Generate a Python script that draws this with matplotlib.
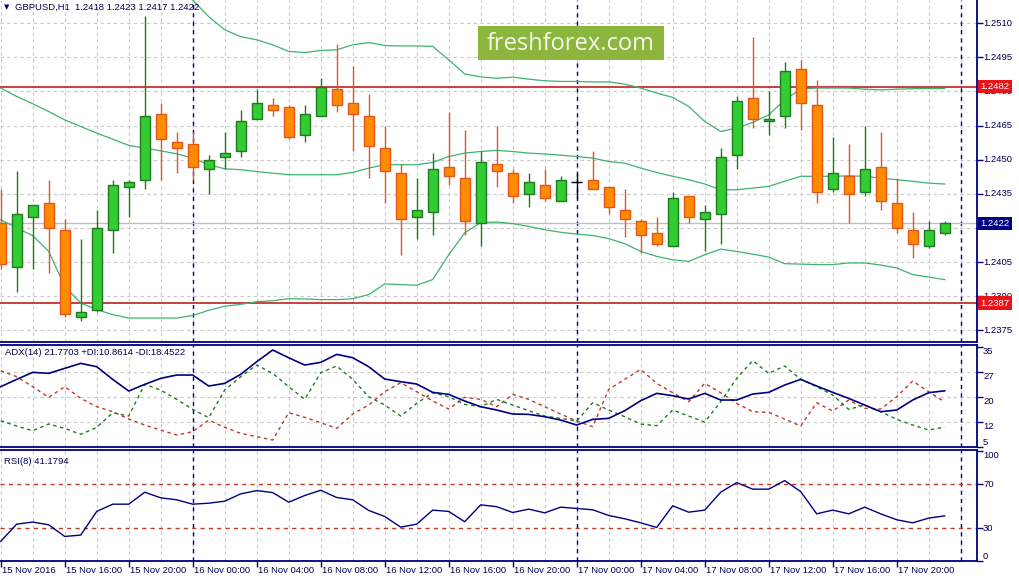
import numpy as np
import matplotlib
matplotlib.use('Agg')
import matplotlib.pyplot as plt
from matplotlib.patches import Rectangle
from matplotlib.transforms import blended_transform_factory as btf

# ---------------- data ----------------
symbol_header = "GBPUSD,H1  1.2418 1.2423 1.2417 1.2422"
adx_header = "ADX(14) 21.7703 +DI:10.8614 -DI:18.4522"
rsi_header = "RSI(8) 41.1794"

opens = [1.2422, 1.2403, 1.2425, 1.2431, 1.2419, 1.2381, 1.2384, 1.2419, 1.2438, 1.2441,
         1.2470, 1.2458, 1.2457, 1.2446, 1.2451, 1.2454, 1.2468, 1.2474, 1.2473, 1.2461,
         1.2469, 1.2481, 1.2475, 1.2469, 1.2455, 1.2444, 1.2425, 1.2427, 1.2447, 1.2442,
         1.2422, 1.2448, 1.2444, 1.2435, 1.2439, 1.2432, 1.2440, 1.2441, 1.2438, 1.2428,
         1.2423, 1.2418, 1.2412, 1.2434, 1.2424, 1.2426, 1.2452, 1.2477, 1.2467, 1.2469,
         1.2490, 1.2474, 1.2437, 1.2443, 1.2436, 1.2447, 1.2431, 1.2419, 1.2412, 1.2418]
highs = [1.2437, 1.2445, 1.2430, 1.2441, 1.2424, 1.2415, 1.2428, 1.2441, 1.2441, 1.2513,
         1.2475, 1.2462, 1.2462, 1.2452, 1.2462, 1.2472, 1.2481, 1.2477, 1.2474, 1.2474,
         1.2486, 1.2501, 1.2491, 1.2479, 1.2465, 1.2448, 1.2442, 1.2453, 1.2471, 1.2463,
         1.2454, 1.2465, 1.2446, 1.2444, 1.2446, 1.2443, 1.2444, 1.2454, 1.2438, 1.2437,
         1.2424, 1.2425, 1.2436, 1.2434, 1.2430, 1.2455, 1.2478, 1.2504, 1.2480, 1.2493,
         1.2494, 1.2485, 1.2460, 1.2457, 1.2465, 1.2462, 1.2442, 1.2427, 1.2423, 1.2423]
lows = [1.2402, 1.2392, 1.2402, 1.2400, 1.2381, 1.2379, 1.2383, 1.2409, 1.2425, 1.2437,
        1.2441, 1.2444, 1.2441, 1.2435, 1.2446, 1.2451, 1.2468, 1.2469, 1.2459, 1.2458,
        1.2469, 1.2471, 1.2454, 1.2442, 1.2431, 1.2408, 1.2415, 1.2417, 1.2439, 1.2417,
        1.2412, 1.2438, 1.2431, 1.2429, 1.2432, 1.2432, 1.2433, 1.2437, 1.2426, 1.2416,
        1.2409, 1.2412, 1.2412, 1.2422, 1.2410, 1.2413, 1.2446, 1.2464, 1.2461, 1.2464,
        1.2463, 1.2431, 1.2436, 1.2422, 1.2434, 1.2428, 1.2418, 1.2407, 1.2411, 1.2417]
closes = [1.2404, 1.2426, 1.2430, 1.2420, 1.2382, 1.2383, 1.2420, 1.2439, 1.2440, 1.2469,
          1.2459, 1.2455, 1.2447, 1.2450, 1.2453, 1.2467, 1.2475, 1.2472, 1.2460, 1.2470,
          1.2482, 1.2474, 1.2470, 1.2456, 1.2445, 1.2424, 1.2428, 1.2446, 1.2443, 1.2423,
          1.2449, 1.2445, 1.2434, 1.2440, 1.2433, 1.2441, 1.2440, 1.2437, 1.2429, 1.2424,
          1.2417, 1.2413, 1.2433, 1.2425, 1.2427, 1.2451, 1.2476, 1.2468, 1.2468, 1.2489,
          1.2475, 1.2436, 1.2444, 1.2435, 1.2446, 1.2432, 1.2420, 1.2413, 1.2419, 1.2422]

bb_upper = [1.25393, 1.25356, 1.25326, 1.25327, 1.25407, 1.25422, 1.25393, 1.25362, 1.25321, 1.25298,
            1.25274, 1.25248, 1.25202, 1.25129, 1.25071, 1.25041, 1.25027, 1.25005, 1.24976, 1.24971,
            1.24980, 1.24983, 1.25005, 1.25015, 1.25002, 1.25000, 1.25000, 1.24998, 1.24939, 1.24877,
            1.24864, 1.24858, 1.24863, 1.24854, 1.24847, 1.24844, 1.24844, 1.24842, 1.24842, 1.24832,
            1.24815, 1.24793, 1.24774, 1.24734, 1.24668, 1.24624, 1.24639, 1.24664, 1.24697, 1.24763,
            1.24810, 1.24815, 1.24815, 1.24815, 1.24810, 1.24807, 1.24810, 1.24812, 1.24813, 1.24813]
bb_middle = [1.24815, 1.24778, 1.24746, 1.24712, 1.24675, 1.24646, 1.24617, 1.24590, 1.24563, 1.24551,
             1.24539, 1.24526, 1.24507, 1.24478, 1.24460, 1.24456, 1.24448, 1.24441, 1.24434, 1.24434,
             1.24434, 1.24434, 1.24444, 1.24463, 1.24478, 1.24478, 1.24478, 1.24488, 1.24514, 1.24529,
             1.24536, 1.24541, 1.24536, 1.24529, 1.24525, 1.24520, 1.24514, 1.24507, 1.24492, 1.24485,
             1.24463, 1.24444, 1.24427, 1.24412, 1.24393, 1.24368, 1.24368, 1.24375, 1.24383, 1.24405,
             1.24427, 1.24427, 1.24427, 1.24429, 1.24427, 1.24419, 1.24412, 1.24405, 1.24397, 1.24393]
bb_lower = [1.24236, 1.24200, 1.24166, 1.24097, 1.23943, 1.23870, 1.23841, 1.23819, 1.23804, 1.23804,
            1.23804, 1.23804, 1.23815, 1.23838, 1.23856, 1.23864, 1.23876, 1.23880, 1.23889, 1.23888,
            1.23885, 1.23885, 1.23889, 1.23907, 1.23954, 1.23951, 1.23948, 1.23973, 1.24082, 1.24178,
            1.24224, 1.24226, 1.24219, 1.24207, 1.24192, 1.24181, 1.24173, 1.24167, 1.24153, 1.24131,
            1.24097, 1.24075, 1.24060, 1.24053, 1.24082, 1.24107, 1.24097, 1.24085, 1.24072, 1.24043,
            1.24041, 1.24039, 1.24039, 1.24046, 1.24046, 1.24037, 1.24024, 1.23995, 1.23984, 1.23973]

adx = [23.0, 25.2, 27.3, 27.0, 28.5, 30.0, 29.0, 25.2, 21.7, 23.7,
       25.5, 26.5, 26.5, 23.2, 24.0, 26.7, 30.5, 34.0, 31.7, 29.5,
       30.3, 32.7, 31.7, 29.0, 25.3, 24.5, 23.8, 21.3, 20.7, 18.7,
       17.0, 16.0, 14.8, 14.7, 14.0, 13.0, 11.5, 13.2, 13.5, 15.8,
       18.8, 21.0, 20.3, 19.3, 21.0, 19.0, 19.0, 20.8, 21.3, 23.5,
       25.2, 23.2, 21.3, 19.5, 17.5, 15.5, 16.0, 19.0, 21.2, 21.77]
plus_di = [12.8, 11.2, 9.8, 11.8, 10.5, 8.7, 10.8, 15.2, 14.2, 23.7,
           22.0, 19.2, 16.2, 13.7, 22.0, 26.0, 29.5, 27.0, 23.0, 19.2,
           27.2, 29.2, 25.2, 20.0, 17.5, 14.2, 18.0, 21.2, 20.0, 17.7,
           17.0, 19.2, 17.5, 15.8, 14.2, 13.5, 12.7, 18.2, 16.0, 14.0,
           11.8, 11.3, 16.0, 14.2, 12.4, 18.5, 25.5, 30.8, 27.0, 29.2,
           25.2, 23.0, 20.5, 16.2, 17.5, 15.5, 13.2, 11.5, 10.0, 10.86]
minus_di = [27.8, 26.0, 23.0, 19.8, 23.0, 19.5, 17.0, 15.5, 13.3, 11.5,
            10.0, 8.5, 9.5, 13.0, 10.8, 9.0, 8.0, 7.0, 15.2, 13.8,
            12.2, 10.5, 14.8, 17.5, 21.5, 24.2, 21.5, 18.7, 16.3, 19.8,
            19.2, 17.0, 20.7, 19.2, 17.0, 14.8, 12.7, 11.0, 22.2, 25.2,
            28.2, 24.0, 21.2, 18.5, 24.0, 21.2, 18.0, 15.5, 15.3, 13.3,
            11.2, 18.2, 15.7, 19.0, 16.5, 16.3, 20.0, 24.7, 21.5, 18.45]
rsi = [17.9, 33.6, 35.5, 33.0, 22.4, 23.6, 45.2, 51.8, 51.8, 62.7,
       57.6, 55.8, 51.8, 52.7, 54.5, 61.2, 64.2, 62.4, 53.6, 59.7,
       64.5, 57.9, 55.8, 46.1, 40.6, 30.9, 33.6, 46.4, 45.2, 35.8,
       51.2, 49.5, 44.2, 47.3, 43.9, 49.1, 47.9, 46.7, 41.5, 38.5,
       34.8, 30.6, 50.3, 44.5, 46.4, 62.7, 71.5, 65.5, 65.5, 73.3,
       63.3, 43.0, 46.4, 43.0, 49.1, 43.0, 37.6, 34.8, 39.1, 41.18]

price_ticks = [1.2510, 1.2495, 1.2480, 1.2465, 1.2450, 1.2435, 1.2420, 1.2405, 1.2390, 1.2375]
level_high = 1.2482
level_low = 1.2387
bid_price = 1.2422
adx_ticks = [35, 27.5, 20, 12.5, 5]
adx_tick_labels = ['35', '27', '20', '12', '5']
rsi_ticks = [100, 70, 30, 0]
rsi_levels = [70, 30]
day_breaks = [12, 36, 60]
x_label_pos = list(range(0, 60, 4))
x_labels = ['15 Nov 2016', '15 Nov 16:00', '15 Nov 20:00', '16 Nov 00:00', '16 Nov 04:00',
            '16 Nov 08:00', '16 Nov 12:00', '16 Nov 16:00', '16 Nov 20:00', '17 Nov 00:00',
            '17 Nov 04:00', '17 Nov 08:00', '17 Nov 12:00', '17 Nov 16:00', '17 Nov 20:00']

# ---------------- styling ----------------
W, H = 1019, 579
NAVY = '#000080'
TXT = '#000050'
GRID = '#c8c8c8'
UP_FILL, UP_EDGE = '#32cd32', '#1f7a1f'
DN_FILL, DN_EDGE = '#ff8c00', '#e0561b'
BB_COL = '#3cb371'
FONT = 'Liberation Sans'
FS = 6.8

fig = plt.figure(figsize=(W / 100, H / 100), dpi=100)
fig.patch.set_facecolor('white')


def px_axes(top, bottom):
    return fig.add_axes([0, 1 - bottom / H, 977 / W, (bottom - top) / H])


ax = px_axes(0, 341.7)
ax_adx = px_axes(344.7, 447.3)
ax_rsi = px_axes(450, 561)

n = len(closes)
x = np.arange(n)
XLIM = (-0.044, 61.02)

for a in (ax, ax_adx, ax_rsi):
    a.set_xlim(*XLIM)
    a.set_facecolor('white')
    for s in a.spines.values():
        s.set_color(NAVY)
        s.set_linewidth(1.3)
    a.spines['left'].set_visible(False)
    a.set_xticks([])
    a.yaxis.tick_right()
    a.tick_params(axis='y', length=4, color=NAVY, labelright=False, labelleft=False, width=1)
    for i in range(0, 62, 2):
        a.axvline(i, color=GRID, lw=0.8, ls=(0, (3, 3)), zorder=0)
    for d in day_breaks:
        a.axvline(d, color=NAVY, lw=1.0, ls=(0, (3, 3)), zorder=1)

ax.spines['top'].set_visible(False)

# ---------------- main price panel ----------------
ax.set_ylim(1.23700, 1.25202)
ax.set_yticks(price_ticks)
for p in price_ticks:
    ax.axhline(p, color=GRID, lw=0.8, ls=(0, (3, 3)), zorder=0)
    ax.text(1 + 6 / 977, p, f'{p:.4f}', transform=btf(ax.transAxes, ax.transData),
            ha='left', va='center', fontsize=FS, family=FONT, color=TXT, clip_on=False)

ax.axhline(bid_price, color='#c0c0c0', lw=1.0, zorder=1)
ax.axhline(level_high, color='#c41e1e', lw=1.2, zorder=2)
ax.axhline(level_low, color='#c41e1e', lw=1.2, zorder=2)

ax.plot(x, bb_upper, color=BB_COL, lw=0.9, zorder=2)
ax.plot(x, bb_middle, color=BB_COL, lw=0.9, zorder=2)
ax.plot(x, bb_lower, color=BB_COL, lw=0.9, zorder=2)

bw = 0.625
for i in range(n):
    o, h, l, c = opens[i], highs[i], lows[i], closes[i]
    if c > o:
        fc, ec = UP_FILL, UP_EDGE
    elif c < o:
        fc, ec = DN_FILL, DN_EDGE
    else:
        fc, ec = 'black', 'black'
    ax.vlines(i, l, h, color=ec, lw=1.0, zorder=3)
    if c == o:
        ax.hlines(c, i - 0.34, i + 0.34, color=ec, lw=1.0, zorder=4)
    else:
        ax.add_patch(Rectangle((i - bw / 2, min(o, c)), bw, abs(c - o),
                               facecolor=fc, edgecolor=ec, lw=1.0, zorder=4))

tr = btf(ax.transAxes, ax.transData)
for val, col in ((level_high, '#e8141a'), (bid_price, NAVY), (level_low, '#e8141a')):
    ax.text(1 + 3.5 / 977, val, f'{val:.4f}', transform=tr, ha='left', va='center',
            fontsize=FS, family=FONT, color='white', clip_on=False, zorder=10,
            bbox=dict(boxstyle='square,pad=0.22', fc=col, ec='none'))

# header
fig.text(4 / W, 1 - 7 / H, '\u25BC', fontsize=5, color=NAVY, va='center', ha='left')
fig.text(15 / W, 1 - 7 / H, symbol_header, fontsize=FS, family=FONT, color=TXT,
         va='center', ha='left')

# watermark
fig.patches.append(Rectangle((478 / W, 1 - 60 / H), 186 / W, 34 / H, transform=fig.transFigure,
                             facecolor='#8db63f', edgecolor='none', zorder=5))
fig.text(571 / W, 1 - 43.5 / H, 'freshforex.com', fontsize=17, family='Open Sans',
         color='#f4f8ea', ha='center', va='center', zorder=6)

# ---------------- ADX panel ----------------
ax_adx.set_ylim(4.82, 35.6)
ax_adx.set_yticks(adx_ticks)
for t in adx_ticks[1:-1]:
    ax_adx.axhline(t, color=GRID, lw=0.8, ls=(0, (3, 3)), zorder=0)
tra = btf(ax_adx.transAxes, ax_adx.transData)
for t, lb in zip(adx_ticks, adx_tick_labels):
    ax_adx.text(1 + 6 / 977, t, lb, transform=tra, ha='left',
                va='bottom' if t == adx_ticks[-1] else 'top',
                fontsize=FS, family=FONT, color=TXT, clip_on=False)
ax_adx.plot(x, minus_di, color='#c0392b', lw=1.0, ls=(0, (2.5, 2.5)), zorder=3)
ax_adx.plot(x, plus_di, color='#1e7b1e', lw=1.0, ls=(0, (2.5, 2.5)), zorder=3)
ax_adx.plot(x, adx, color=NAVY, lw=1.2, zorder=4)
ax_adx.text(5 / 977, 0.92, adx_header, transform=ax_adx.transAxes, fontsize=FS,
            family=FONT, color=TXT, ha='left', va='center')

# ---------------- RSI panel ----------------
ax_rsi.set_ylim(0, 101.2)
ax_rsi.set_yticks(rsi_ticks)
trr = btf(ax_rsi.transAxes, ax_rsi.transData)
for t in rsi_ticks:
    va = 'top' if t == 100 else ('bottom' if t == 0 else 'center')
    ax_rsi.text(1 + 6 / 977, t, str(t), transform=trr, ha='left', va=va,
                fontsize=FS, family=FONT, color=TXT, clip_on=False)
for lv in rsi_levels:
    ax_rsi.axhline(lv, color='#c0392b', lw=1.0, ls=(0, (3, 3)), zorder=2)
ax_rsi.plot(x, rsi, color=NAVY, lw=1.0, zorder=3)
ax_rsi.text(4 / 977, 0.9, rsi_header, transform=ax_rsi.transAxes, fontsize=FS,
            family=FONT, color=TXT, ha='left', va='center')

# x axis ticks and labels
ax_rsi.set_xticks(x_label_pos)
ax_rsi.tick_params(axis='x', length=4, color=NAVY, labelbottom=False, direction='out', width=1)
trx = btf(ax_rsi.transData, ax_rsi.transAxes)
for pos, lb in zip(x_label_pos, x_labels):
    ax_rsi.text(pos + 0.08, -9.5 / 111, lb, transform=trx, ha='left', va='center',
                fontsize=FS, family=FONT, color=TXT, clip_on=False)

fig.savefig('out.png', dpi=100, facecolor='white')
